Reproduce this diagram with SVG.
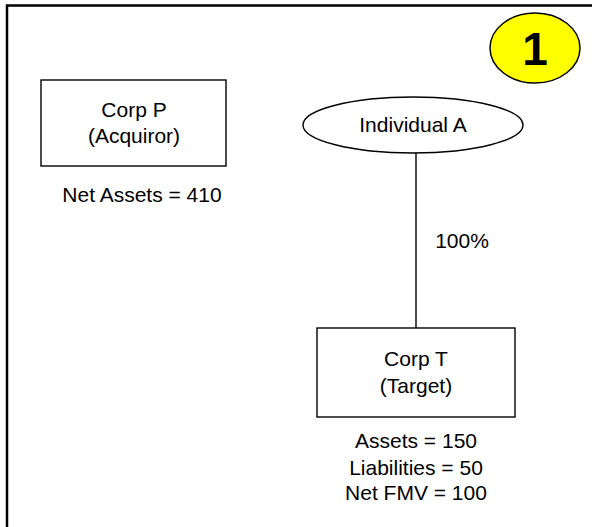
<svg xmlns="http://www.w3.org/2000/svg" width="592" height="527" viewBox="0 0 592 527">
<style>
text{font-family:"Liberation Sans",Arial,sans-serif;font-size:21px;fill:#000;text-anchor:middle}
.node{fill:#fff;stroke:#000;stroke-width:1.4}
.conn{stroke:#000;stroke-width:1.4;fill:none}
</style>
<rect width="592" height="527" fill="#fff"/>
<path d="M7,527 V5.5 H592" fill="none" stroke="#000" stroke-width="2.5"/>
<g id="badge">
<ellipse cx="535" cy="48" rx="45" ry="35" fill="#ffff00" stroke="#000" stroke-width="1.5"/>
<text x="535" y="65" style="font-size:46px;font-weight:bold">1</text>
</g>
<g id="connectors">
<line class="conn" x1="416" y1="153" x2="416" y2="328"/>
<text x="462" y="248">100%</text>
</g>
<g id="corpP">
<rect class="node" x="41" y="80" width="185" height="86"/>
<text x="134" y="117">Corp P</text>
<text x="134" y="143">(Acquiror)</text>
<text x="142" y="202">Net Assets = 410</text>
</g>
<g id="individualA">
<ellipse class="node" cx="413" cy="125" rx="110" ry="28"/>
<text x="413" y="132">Individual A</text>
</g>
<g id="corpT">
<rect class="node" x="317" y="328" width="198" height="89"/>
<text x="416" y="366">Corp T</text>
<text x="416" y="393">(Target)</text>
<text x="416" y="448">Assets = 150</text>
<text x="416" y="475">Liabilities = 50</text>
<text x="416" y="500">Net FMV = 100</text>
</g>
</svg>
